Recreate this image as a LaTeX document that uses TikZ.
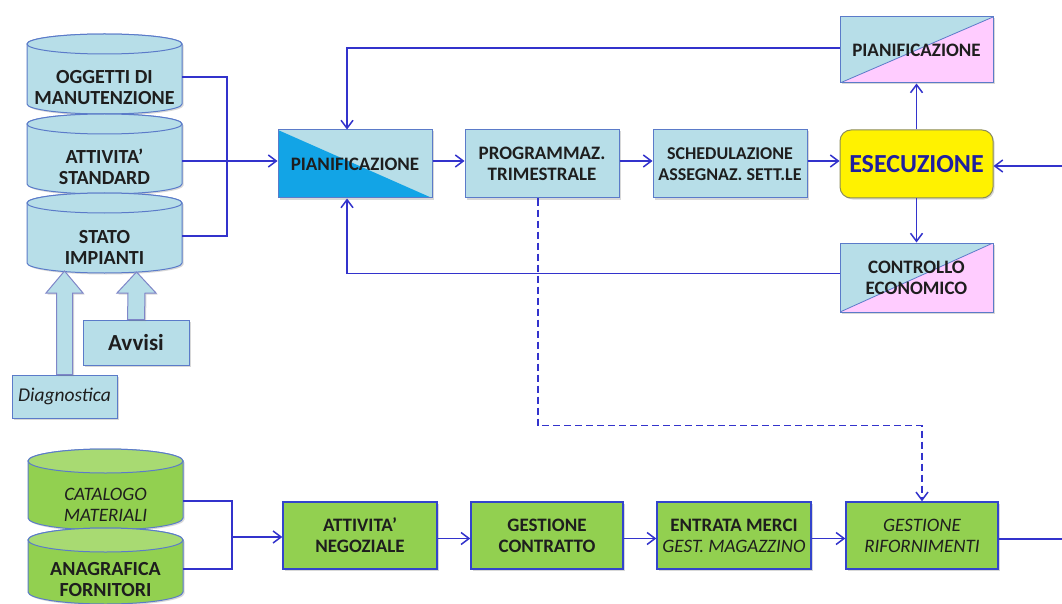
\documentclass[tikz,border=0pt]{standalone}
\usepackage{fontspec}
\setmainfont{Carlito}
\usetikzlibrary{arrows.meta,shadows,calc}
\definecolor{lb}{HTML}{B7DEE8}
\definecolor{db}{HTML}{12A4E6}
\definecolor{pk}{HTML}{FFCCFF}
\definecolor{gr}{HTML}{92D050}
\definecolor{grcap}{HTML}{A8DA72}
\definecolor{ln}{HTML}{3333CC}
\definecolor{bd}{HTML}{5B7BC9}
\definecolor{gbd}{HTML}{3344CC}
\definecolor{tx}{HTML}{1E1E1E}
\definecolor{etx}{HTML}{1F1FA0}
\definecolor{ybd}{HTML}{8C8C5A}
\definecolor{blkbd}{HTML}{7F86C8}
\newcommand\mycyl[7]{%
  \pgfmathsetmacro\cylrx{(#2-#1)/2}%
  \path[cylst, fill=#6] (#1,#3) -- (#1,#4) arc[start angle=180,end angle=0,x radius=\cylrx,y radius=#5] -- (#2,#3) arc[start angle=0,end angle=-180,x radius=\cylrx,y radius=#5] -- cycle;
  \path[cylcap, fill=#7] ({(#1+#2)/2},#3) ellipse[x radius=\cylrx, y radius=#5];
}
\begin{document}
\begin{tikzpicture}[x=1pt,y=-1pt,
  line/.style={draw=ln, line width=1.6pt},
  tip/.style={-{Straight Barb[length=8pt,width=12pt,line width=1.5pt]}},
  arr/.style={line, tip},
  shad/.style={drop shadow={shadow xshift=1.5pt,shadow yshift=-1.5pt,opacity=0.3}},
  boxbase/.style={rectangle, minimum width=154pt, minimum height=68pt, inner sep=0pt, align=center,
    font=\bfseries\fontsize{19}{21}\selectfont, text=tx, shad},
  lbbox/.style={boxbase, fill=lb, draw=bd, line width=1pt},
  grbox/.style={boxbase, fill=gr, draw=gbd, line width=1.4pt, minimum height=67pt},
  cylst/.style={draw=bd, line width=1pt, shad},
  cylcap/.style={draw=bd, line width=1pt},
  cyltxt/.style={align=center, inner sep=0pt, font=\bfseries\fontsize{20}{21}\selectfont, text=tx},
  blk/.style={fill=lb, draw=blkbd, line width=1pt, shad},
  dpk/.style={path picture={
     \fill[pk] (path picture bounding box.south west) -- (path picture bounding box.north east) -- (path picture bounding box.south east) -- cycle;
     \draw[bd, line width=0.8pt] (path picture bounding box.south west) -- (path picture bounding box.north east);}},
  ddb/.style={path picture={
     \fill[db] (path picture bounding box.north west) -- (path picture bounding box.south east) -- (path picture bounding box.south west) -- cycle;}}
]
\useasboundingbox (0,0) rectangle (1062,604);
\fill[white] (0,0) rectangle (1062,604);

% ---------- top cylinders ----------
\mycyl{27}{182}{44}{104}{10}{lb}{lb}
\mycyl{27}{182}{124}{184}{10}{lb}{lb}
\mycyl{27}{182}{203}{263}{10}{lb}{lb}
\node[cyltxt] (c1) at (104.5,88) {OGGETTI DI\\MANUTENZIONE};
\node[cyltxt] (c2) at (104.5,167) {ATTIVITA’\\STANDARD};
\node[cyltxt] (c3) at (104.5,247) {STATO\\IMPIANTI};

% ---------- block arrows and inputs ----------
\node[lbbox, minimum width=106pt, minimum height=45pt, font=\bfseries\fontsize{23}{25}\selectfont] (avv) at (136,342.5) {Avvisi};
\node[lbbox, minimum width=105pt, minimum height=43pt, font=\itshape\fontsize{19.5}{22}\selectfont] (diag) at (64.5,396.5) {Diagnostica};
\coordinate (avtip) at (136.5,272);
\coordinate (dgtip) at (64.5,271);
\draw[blk] ($(avv.north)+(-8.5,0)$) -- ($(avtip)+(-8.5,21)$) -- ($(avtip)+(-19.5,21)$) -- (avtip)
   -- ($(avtip)+(19.5,21)$) -- ($(avtip)+(8.5,21)$) -- ($(avv.north)+(8.5,0)$) -- cycle;
\draw[blk] ($(diag.north)+(-8,0)$) -- ($(dgtip)+(-8,22)$) -- ($(dgtip)+(-18.5,22)$) -- (dgtip)
   -- ($(dgtip)+(18.5,22)$) -- ($(dgtip)+(8,22)$) -- ($(diag.north)+(8,0)$) -- cycle;

% ---------- top row boxes ----------
\node[lbbox, ddb] (pian) at (355,164) {PIANIFICAZIONE};
\node[lbbox] (prog) at (542,164) {PROGRAMMAZ.\\TRIMESTRALE};
\node[lbbox, font=\bfseries\fontsize{18}{21}\selectfont] (sched) at (730,164) {SCHEDULAZIONE\\ASSEGNAZ. SETT.LE};
\node[boxbase, rounded corners=11pt, fill=yellow, draw=ybd, line width=1pt, minimum width=153pt,
      font=\bfseries\fontsize{26}{28}\selectfont, text=etx] (esec) at (916.5,164) {ESECUZIONE};
\node[lbbox, dpk, minimum width=153pt, minimum height=66pt] (pian2) at (916.5,50) {PIANIFICAZIONE};
\node[lbbox, dpk, minimum width=153pt, minimum height=69pt] (contr) at (916.5,277.5) {CONTROLLO\\ECONOMICO};

% ---------- top connectors ----------
\coordinate (c1r) at (182,77);
\coordinate (c2r) at (182,161);
\coordinate (c3r) at (182,236);
\coordinate (j1) at (227,77);
\coordinate (j3) at (227,236);
\draw[line] (c1r) -- (j1) -- (j3) -- (c3r);
\draw[arr] (c2r) -- (pian.west |- c2r);
\draw[arr] ([yshift=2pt]pian2.west) -| ([xshift=-8pt]pian.north);
\draw[arr] ([yshift=4pt]contr.west) -| ([xshift=-8pt]pian.south);
\draw[arr] ([yshift=3pt]pian.east) -- ([yshift=3pt]prog.west);
\draw[arr] ([yshift=3pt]prog.east) -- ([yshift=3pt]sched.west);
\draw[arr] ([yshift=3pt]sched.east) -- ([yshift=3pt]esec.west);
\draw[arr] (esec.north) -- (pian2.south);
\draw[arr] (esec.south) -- (contr.north);
\coordinate (rin) at (1062,166);
\draw[arr] (rin) -- (esec.east |- rin);

% ---------- bottom cylinders ----------
\mycyl{28}{183}{461}{518}{12}{gr}{grcap}
\mycyl{28}{183}{540}{592}{12}{gr}{grcap}
\node[cyltxt, font=\itshape\fontsize{19}{21}\selectfont] (d1) at (105.5,504.5) {CATALOGO\\MATERIALI};
\node[cyltxt] (d2) at (105.5,580) {ANAGRAFICA\\FORNITORI};

% ---------- bottom row boxes ----------
\node[grbox] (att) at (360,535.5) {ATTIVITA’\\NEGOZIALE};
\node[grbox, minimum width=152pt] (gest) at (547,535.5) {GESTIONE\\CONTRATTO};
\node[grbox] (entr) at (734,535.5) {ENTRATA MERCI\\{\mdseries\itshape GEST. MAGAZZINO}};
\node[grbox, minimum width=152pt, font=\itshape\fontsize{19}{21}\selectfont] (rif) at (922,535.5) {GESTIONE\\RIFORNIMENTI};

% ---------- bottom connectors ----------
\coordinate (d1r) at (183,501);
\coordinate (d2r) at (183,569);
\coordinate (k1) at (232,501);
\coordinate (k2) at (232,569);
\coordinate (km) at (232,537);
\draw[line] (d1r) -- (k1) -- (k2) -- (d2r);
\draw[arr] (km) -- (att.west |- km);
\draw[arr] ([yshift=-3pt]att.east) -- ([yshift=-3pt]gest.west);
\draw[arr] ([yshift=-3pt]gest.east) -- ([yshift=-3pt]entr.west);
\draw[arr] ([yshift=-3pt]entr.east) -- ([yshift=-3pt]rif.west);
\coordinate (rout) at (1062,539);
\draw[line] (rif.east |- rout) -- (rout);
\draw[line, dash pattern=on 7pt off 4pt, tip]
   ([xshift=-4pt]prog.south) -- ++(0,227) -| (rif.north);
\end{tikzpicture}
\end{document}
